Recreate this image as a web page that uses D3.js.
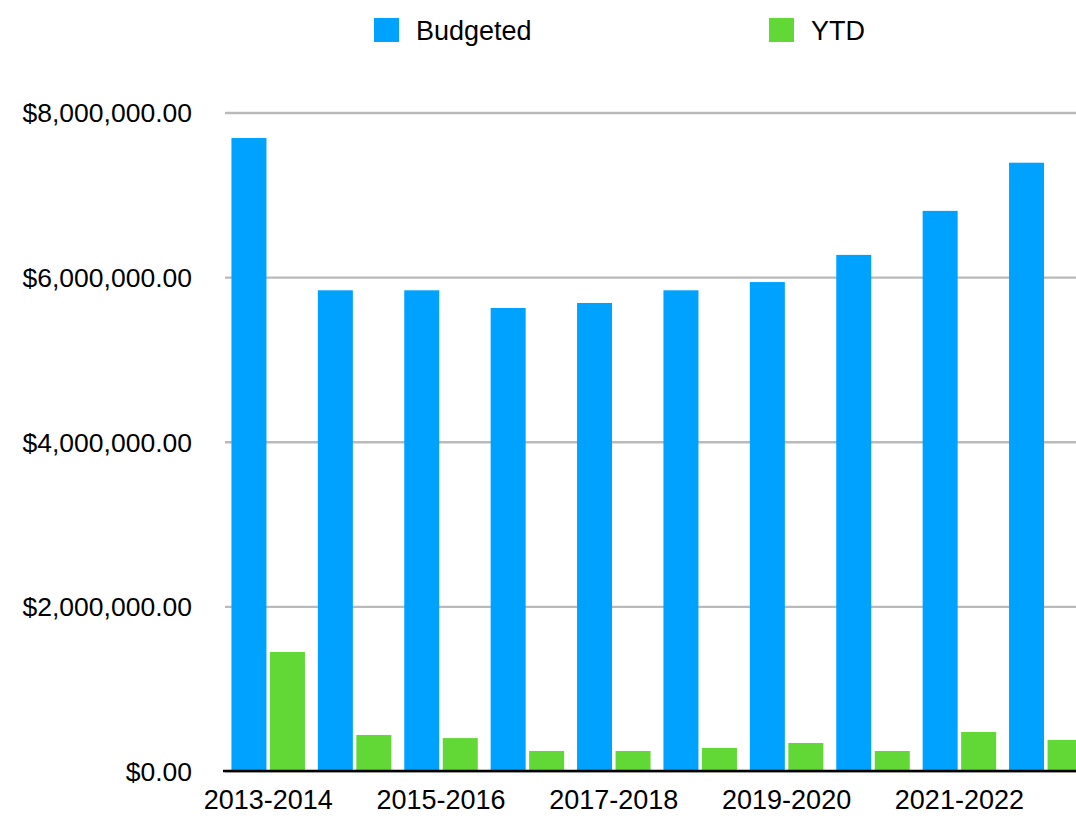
<!DOCTYPE html>
<html>
<head>
<meta charset="utf-8">
<script src="https://cdn.jsdelivr.net/npm/d3@7"></script>
<style>
  html, body { margin: 0; padding: 0; background: #fff; }
  svg { display: block; font-family: "Liberation Sans", Arial, Helvetica, sans-serif; }
</style>
</head>
<body>
<div id="chart"></div>
<script>
// fiscal years
var categories = ["2013-2014", "2014-2015", "2015-2016", "2016-2017", "2017-2018",
  "2018-2019", "2019-2020", "2020-2021", "2021-2022", "2022-2023"];
var seriesNames = ["Budgeted", "YTD"];
var seriesColors = ["#00a2ff", "#61d836"];
var budgeted = [7690000, 5840000, 5840000, 5625000, 5686000, 5840000, 5940000, 6270000, 6805000, 7390000];
var ytd = [1446000, 437000, 400000, 243000, 243000, 280000, 340000, 243000, 474000, 377000];
var yTicks = [0, 2000000, 4000000, 6000000, 8000000];

function chart(selector) {
  var width = 1076, height = 818;
  var left = 225, bottom = 771, top = 112.5;
  var step = 86.4;

  var canvas = d3.select("#" + selector)
    .append("svg")
    .attr("width", width)
    .attr("height", height);

  var x0 = d3.scaleBand()
    .domain(categories)
    .range([left, left + step * categories.length]);

  var x1 = d3.scaleBand()
    .domain(seriesNames)
    .range([6.45, step - 6.45])
    .paddingInner(0.0909);

  var y = d3.scaleLinear()
    .domain([0, 8000000])
    .range([bottom, top]);

  // grid lines
  var grid = canvas.append("g")
    .attr("transform", "translate(" + left + ",0)")
    .call(d3.axisLeft(y).tickValues(yTicks).tickSize(-(width - left)).tickFormat(""));
  grid.select(".domain").remove();
  grid.selectAll("line").attr("stroke", "#bababa").attr("stroke-width", 2.3);

  // y labels
  var yAxis = canvas.append("g")
    .attr("transform", "translate(" + left + ",0)")
    .call(d3.axisLeft(y).tickValues(yTicks).tickSize(0).tickPadding(33)
      .tickFormat(d => "$" + d3.format(",.2f")(d)));
  yAxis.select(".domain").remove();
  yAxis.selectAll("text")
    .attr("font-size", 26.5)
    .attr("fill", "#000")
    .attr("dy", "0.35em");

  var rows = categories.map((c, i) => ({ cat: c, values: [budgeted[i], ytd[i]] }));

  var groups = canvas.append("g").selectAll("g")
    .data(rows)
    .enter()
    .append("g")
    .attr("transform", d => "translate(" + x0(d.cat) + ",0)");

  groups.selectAll("rect")
    .data(d => d.values.map((v, i) => ({ key: seriesNames[i], value: v, color: seriesColors[i] })))
    .enter()
    .append("rect")
    .attr("x", d => x1(d.key))
    .attr("width", x1.bandwidth())
    .attr("y", d => y(d.value))
    .attr("height", d => y(0) - y(d.value))
    .attr("fill", d => d.color);

  // baseline
  canvas.append("line")
    .attr("x1", left - 2).attr("x2", width)
    .attr("y1", bottom).attr("y2", bottom)
    .attr("stroke", "#000")
    .attr("stroke-width", 2.5);

  // x labels, every other year
  var xAxis = canvas.append("g")
    .attr("transform", "translate(0," + bottom + ")")
    .call(d3.axisBottom(x0).tickValues(categories.filter((c, i) => i % 2 === 0)).tickSize(0).tickPadding(0));
  xAxis.select(".domain").remove();
  xAxis.selectAll("text")
    .attr("font-size", 27)
    .attr("fill", "#000")
    .attr("dy", null)
    .attr("y", 38);

  // legend
  var legendX = [374, 769];
  var legend = canvas.append("g").selectAll("g")
    .data(seriesNames)
    .enter()
    .append("g")
    .attr("transform", (d, i) => "translate(" + legendX[i] + ",18)");
  legend.append("rect")
    .attr("width", 25).attr("height", 24)
    .attr("fill", (d, i) => seriesColors[i]);
  legend.append("text")
    .attr("x", 42).attr("y", 21.5)
    .attr("font-size", 27)
    .attr("fill", "#000")
    .text(d => d);
}

chart("chart");
</script>
</body>
</html>
